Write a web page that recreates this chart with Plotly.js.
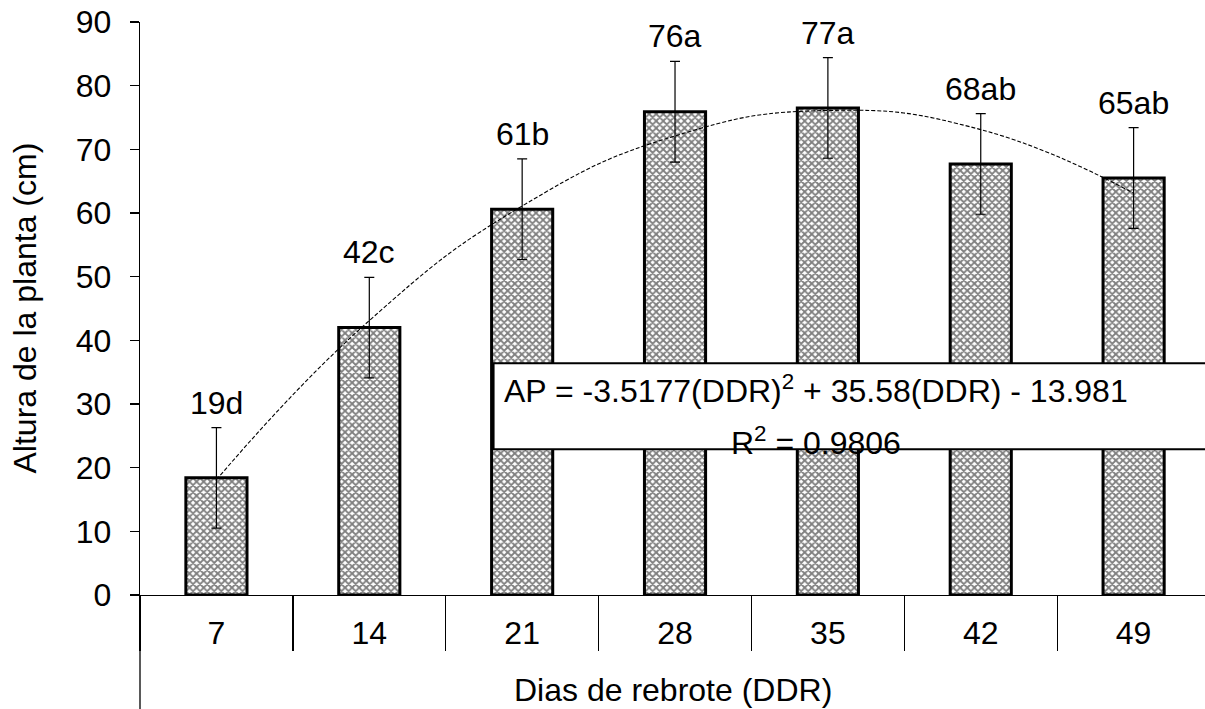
<!DOCTYPE html>
<html>
<head>
<meta charset="utf-8">
<script src="https://cdn.plot.ly/plotly-3.0.1.min.js"></script>
<style>html,body{margin:0;padding:0;background:#fff;}#chart{width:1205px;height:709px;}</style>
</head>
<body>
<div id="chart"></div>
<script>
// Data
var categories = ["7", "14", "21", "28", "35", "42", "49"];
var heights = [18.4, 42.0, 60.6, 75.9, 76.5, 67.7, 65.5];
var errors = [7.9, 7.9, 7.9, 7.9, 7.9, 7.9, 7.9];
var labels = ["19d", "42c", "61b", "76a", "77a", "68ab", "65ab"];
var trendValues = [18.1, 43.1, 61.1, 72.1, 76.1, 73.1, 63.1];
var equationText = "AP = -3.5177(DDR)<sup>2</sup> + 35.58(DDR) - 13.981";
var r2Text = "R<sup>2</sup> = 0.9806";
var xTitle = "Dias de rebrote (DDR)";
var yTitle = "Altura de la planta (cm)";

var FONT = "Liberation Sans, Arial, sans-serif";
var FS = 32;

var bars = {
  type: "bar",
  x: categories,
  y: heights,
  width: 0.4,
  marker: {
    color: "white",
    line: {color: "black", width: 3},
    pattern: {shape: "x", size: 5, solidity: 0.6, fgcolor: "black", bgcolor: "white", fillmode: "overlay"}
  },
  error_y: {type: "data", array: errors, visible: true, color: "black", thickness: 1.2, width: 5},
  hoverinfo: "skip"
};

var trend = {
  type: "scatter",
  mode: "lines",
  x: categories,
  y: trendValues,
  line: {color: "black", width: 1.1, dash: "4px,2px", shape: "spline", smoothing: 1.3},
  hoverinfo: "skip"
};

// On a category axis, annotation x uses the category index
var annotations = labels.map(function (t, i) {
  return {
    x: i, y: heights[i] + errors[i], xref: "x", yref: "y",
    text: t, showarrow: false, yanchor: "bottom", yshift: 5,
    font: {family: FONT, size: FS, color: "black"}
  };
});
annotations.push({
  x: 3.92, y: 32.3, xref: "x", yref: "y", text: equationText, showarrow: false,
  font: {family: FONT, size: FS, color: "black"}
});
annotations.push({
  x: 3.92, y: 24.2, xref: "x", yref: "y", text: r2Text, showarrow: false,
  font: {family: FONT, size: FS, color: "black"}
});
annotations.push({
  x: 0.5, y: -95 / 573, xref: "paper", yref: "paper", text: xTitle, showarrow: false,
  xanchor: "center", yanchor: "middle",
  font: {family: FONT, size: FS, color: "black"}
});
annotations.push({
  x: -116 / 1065, y: 0.5, xref: "paper", yref: "paper", text: yTitle, showarrow: false,
  textangle: -90, xanchor: "center", yanchor: "middle",
  font: {family: FONT, size: FS, color: "black"}
});

var shapes = [
  {type: "rect", xref: "x", yref: "y", x0: 1.813, x1: 7.5, y0: 22.9, y1: 36.4,
   fillcolor: "white", line: {color: "black", width: 2}, layer: "above"},
  {type: "line", xref: "paper", yref: "paper", x0: 0, x1: 0, y0: 0, y1: -0.2,
   line: {color: "black", width: 1.3}}
];

var layout = {
  width: 1205, height: 709,
  margin: {l: 140, r: 0, t: 22, b: 114, pad: 0},
  paper_bgcolor: "white", plot_bgcolor: "white",
  showlegend: false,
  font: {family: FONT, size: FS, color: "black"},
  xaxis: {
    type: "category",
    range: [-0.5, 6.467],
    showline: true, linecolor: "black", linewidth: 1.3,
    ticks: "outside", tickson: "boundaries", ticklen: 55, tickwidth: 1.3, tickcolor: "black",
    ticklabelstandoff: 9,
    tickfont: {family: FONT, size: FS, color: "black"},
    showgrid: false, zeroline: false
  },
  yaxis: {
    range: [0, 90], dtick: 10,
    showline: true, linecolor: "black", linewidth: 1.3,
    ticks: "outside", ticklen: 9, tickwidth: 1.3, tickcolor: "black",
    ticklabelstandoff: 12,
    tickfont: {family: FONT, size: FS, color: "black"},
    showgrid: false, zeroline: false
  },
  annotations: annotations,
  shapes: shapes
};

Plotly.newPlot("chart", [bars, trend], layout, {staticPlot: true, displayModeBar: false});
</script>
</body>
</html>
